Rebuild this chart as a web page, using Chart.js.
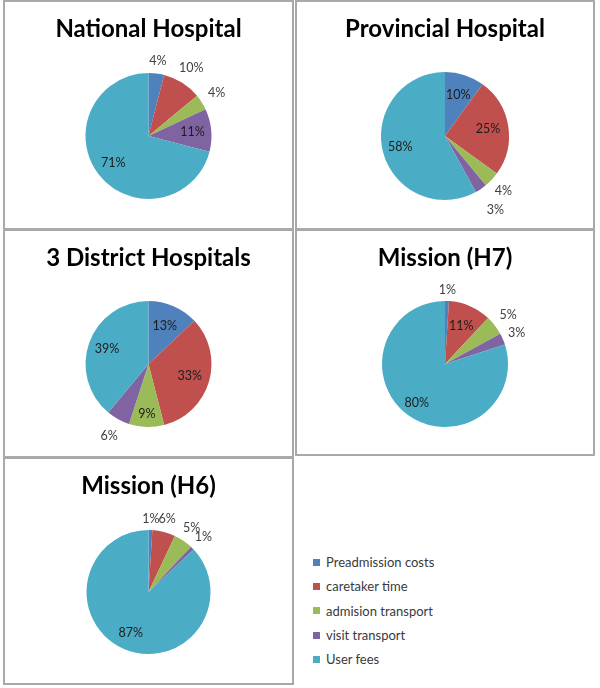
<!DOCTYPE html>
<html><head><meta charset="utf-8">
<script src="https://cdn.jsdelivr.net/npm/chart.js@4"></script>
<style>
body{margin:0;background:#fff;width:600px;height:688px;position:relative;overflow:hidden;font-family:Lato,sans-serif}
.panel{position:absolute;border:2px solid #a9a9a9;box-sizing:border-box;background:#fff}
canvas{display:block}
#legend{position:absolute;left:313px;top:550px}
.item{height:24.3px;display:flex;align-items:center;font-size:13px;color:#3a3a3a;white-space:nowrap}
.sw{width:7px;height:7px;margin-right:6px;flex:none}
</style></head>
<body>
<div id="root"></div>
<div id="legend"></div>
<script>
// ---- data ----
const categories = ['Preadmission costs','caretaker time','admision transport','visit transport','User fees'];
const colors = ['#4F81BD','#C0504D','#9BBB59','#8064A2','#4BACC6'];
const titles = ['National Hospital','Provincial Hospital','3 District Hospitals','Mission (H7)','Mission (H6)'];
const nationalHospital   = [4, 10, 4, 11, 71];
const provincialHospital = [10, 25, 4, 3, 58];
const districtHospitals  = [13, 33, 9, 6, 39];
const missionH7          = [1, 11, 5, 3, 80];
const missionH6          = [1, 6, 5, 1, 87];
const seriesValues = [nationalHospital, provincialHospital, districtHospitals, missionH7, missionH6];

// ---- layout / style (not data) ----
const panels = [
  {left:3,   top:0,   w:291, h:230, cy:134, r:63},
  {left:295, top:0,   w:300, h:230, cy:134, r:64},
  {left:3,   top:229, w:291, h:229, cy:133, r:63},
  {left:295, top:229, w:300, h:227, cy:133, r:63},
  {left:3,   top:457, w:291, h:228, cy:133, r:62}
];
const labelRadii = [
  [1.2, 1.27, 1.28, 0.7, 0.71],
  [0.67, 0.68, 1.25, 1.4, 0.72],
  [0.65, 0.68, 0.8, 1.3, 0.7],
  [1.17, 0.65, 1.27, 1.24, 0.76],
  [1.18, 1.21, 1.24, 1.25, 0.72]
];

const pctLabels = {
  id:'pctLabels',
  afterDatasetsDraw(chart, args, opts){
    const ctx = chart.ctx, meta = chart.getDatasetMeta(0);
    const data = chart.data.datasets[0].data, f = opts.radii;
    ctx.save();
    ctx.font = '12.5px Lato';
    ctx.textAlign = 'center'; ctx.textBaseline = 'middle';
    meta.data.forEach((arc,i)=>{
      const p = arc.getProps(['x','y','startAngle','endAngle','outerRadius'], true);
      const a = (p.startAngle + p.endAngle)/2, rr = p.outerRadius*f[i];
      ctx.fillStyle = f[i] < 1 ? '#1c1c1c' : '#404040';
      ctx.fillText(data[i] + '%', p.x + Math.cos(a)*rr, p.y + Math.sin(a)*rr);
    });
    ctx.restore();
  }
};

const root = document.getElementById('root');
const titleSize = 24, titleLH = titleSize*1.2, titleCenter = 27;
panels.forEach((pn, k)=>{
  const div = document.createElement('div');
  div.className = 'panel';
  Object.assign(div.style, {left:pn.left+'px', top:pn.top+'px', width:pn.w+'px', height:pn.h+'px'});
  const cv = document.createElement('canvas');
  const cw = pn.w-4, ch = pn.h-4;
  cv.width = cw; cv.height = ch;
  cv.style.width = cw+'px'; cv.style.height = ch+'px';
  div.appendChild(cv); root.appendChild(div);
  const tTop = titleCenter - titleLH/2;
  const areaTop = pn.cy - pn.r;
  const tBottom = areaTop - tTop - titleLH;
  const padBottom = ch - (pn.cy + pn.r);
  new Chart(cv, {
    type:'pie',
    data:{labels:categories, datasets:[{data:seriesValues[k], backgroundColor:colors, borderWidth:0}]},
    options:{
      responsive:false, animation:false, devicePixelRatio:1,
      layout:{padding:{top:0, bottom:padBottom, left:0, right:0}},
      plugins:{
        legend:{display:false}, tooltip:{enabled:false},
        title:{display:true, text:titles[k], color:'#000',
          font:{family:'Lato', size:titleSize, weight:'bold', lineHeight:1.2},
          padding:{top:tTop, bottom:tBottom}},
        pctLabels:{radii:labelRadii[k]}
      }
    },
    plugins:[pctLabels]
  });
});

const lg = document.getElementById('legend');
categories.forEach((c,i)=>{
  const it = document.createElement('div'); it.className='item';
  const sw = document.createElement('span'); sw.className='sw'; sw.style.background = colors[i];
  const tx = document.createElement('span'); tx.textContent = c;
  it.appendChild(sw); it.appendChild(tx); lg.appendChild(it);
});
</script>
</body></html>
